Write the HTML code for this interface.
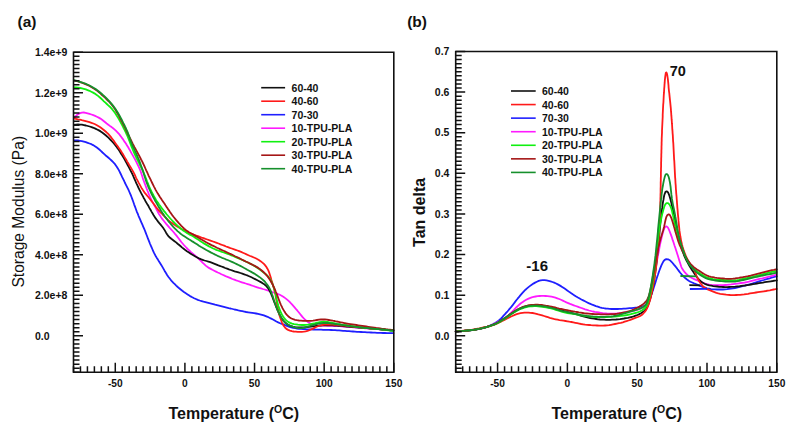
<!DOCTYPE html>
<html><head><meta charset="utf-8"><title>DMA</title>
<style>
html,body{margin:0;padding:0;background:#fff;}
body{width:797px;height:435px;overflow:hidden;}
svg{display:block;}
text{font-family:'Liberation Sans',sans-serif;fill:#111;}
.tl{font-size:10.2px;font-weight:bold;}
.ty{font-size:10.5px;font-weight:bold;}
.lg{font-size:10.5px;font-weight:bold;}
.pl{font-size:15.5px;font-weight:bold;}
.at{font-size:16px;font-weight:bold;}
.yt{font-size:15.6px;}
.yb{font-size:16px;font-weight:bold;}
.an{font-size:14px;font-weight:bold;}
</style></head>
<body>
<svg width="797" height="435" viewBox="0 0 797 435">
<rect width="797" height="435" fill="#fff"/>
<path d="M74.0,140.4 76.0,140.4 78.0,140.5 80.0,140.8 81.9,141.1 83.9,141.6 85.8,142.1 87.7,142.8 89.5,143.5 91.4,144.2 93.1,145.1 94.9,146.2 96.5,147.3 98.1,148.5 99.6,149.8 101.1,151.1 102.5,152.5 104.0,153.9 105.4,155.2 107.0,156.5 108.5,157.8 110.0,159.1 111.5,160.5 112.9,161.9 114.3,163.3 115.5,164.9 116.6,166.5 117.7,168.2 118.7,169.9 119.6,171.7 120.5,173.5 121.4,175.3 122.2,177.1 123.1,178.9 124.0,180.7 124.8,182.5 125.7,184.3 126.6,186.1 127.5,187.9 128.4,189.7 129.2,191.5 130.0,193.3 130.8,195.2 131.5,197.0 132.2,198.9 132.9,200.8 133.6,202.7 134.2,204.6 134.9,206.4 135.6,208.3 136.3,210.2 137.0,212.1 137.8,213.9 138.5,215.8 139.3,217.6 140.1,219.4 140.9,221.3 141.7,223.1 142.5,224.9 143.3,226.8 144.1,228.6 144.9,230.5 145.6,232.3 146.3,234.2 147.0,236.0 147.7,237.9 148.5,239.8 149.2,241.6 149.9,243.5 150.7,245.3 151.5,247.2 152.3,249.0 153.1,250.9 153.9,252.7 154.8,254.4 155.8,256.2 156.8,257.9 157.9,259.6 158.9,261.3 160.0,263.0 161.1,264.7 162.1,266.4 163.1,268.1 164.1,269.9 165.0,271.6 166.1,273.3 167.1,275.0 168.3,276.7 169.5,278.2 170.7,279.8 172.0,281.3 173.4,282.8 174.8,284.2 176.2,285.6 177.7,287.0 179.2,288.3 180.7,289.5 182.3,290.8 183.9,292.0 185.5,293.1 187.2,294.2 188.9,295.3 190.6,296.4 192.3,297.3 194.1,298.2 195.9,299.0 197.8,299.8 199.7,300.5 201.6,301.1 203.5,301.7 205.4,302.2 207.3,302.7 209.3,303.2 211.2,303.7 213.2,304.2 215.1,304.7 217.0,305.1 219.0,305.6 220.9,306.1 222.9,306.6 224.8,307.1 226.7,307.6 228.7,308.1 230.6,308.5 232.6,309.0 234.5,309.5 236.5,309.9 238.4,310.4 240.4,310.8 242.3,311.2 244.3,311.6 246.2,312.0 248.2,312.3 250.2,312.6 252.2,312.9 254.1,313.2 256.1,313.5 258.1,313.9 260.0,314.3 262.0,314.8 263.9,315.4 265.7,316.1 267.6,316.8 269.4,317.7 271.2,318.6 273.0,319.5 274.7,320.5 276.4,321.5 278.2,322.4 280.0,323.2 281.9,324.0 283.7,324.7 285.6,325.4 287.5,326.1 289.4,326.8 291.3,327.4 293.2,327.9 295.2,328.2 297.1,328.5 299.1,328.8 301.1,328.9 303.1,329.1 305.1,329.2 307.1,329.3 309.1,329.4 311.1,329.4 313.1,329.5 315.1,329.6 317.1,329.6 319.1,329.7 321.1,329.7 323.1,329.8 325.1,329.8 327.1,329.9 329.1,329.9 331.1,330.0 333.1,330.1 335.1,330.2 337.1,330.3 339.1,330.4 341.1,330.6 343.1,330.8 345.0,330.9 347.0,331.1 349.0,331.2 351.0,331.4 353.0,331.5 355.0,331.6 357.0,331.8 359.0,331.9 361.0,332.0 363.0,332.1 365.0,332.2 367.0,332.3 369.0,332.4 371.0,332.5 373.0,332.6 375.0,332.7 377.0,332.8 379.0,332.9 381.0,332.9 383.0,333.0 385.0,333.0 387.0,333.1 388.9,333.1 390.8,333.1 392.6,333.2 393.4,333.2" stroke="#1f1fff" stroke-width="1.8" fill="none" stroke-linejoin="round" stroke-linecap="round"/>
<path d="M74.0,117.9 75.4,116.5 76.9,115.1 78.4,114.0 80.1,113.1 81.9,112.6 83.8,112.5 85.7,112.8 87.6,113.3 89.5,113.9 91.4,114.5 93.3,115.2 95.1,115.9 96.9,116.7 98.7,117.6 100.4,118.6 102.1,119.8 103.6,121.0 105.2,122.3 106.7,123.5 108.3,124.7 109.9,125.9 111.6,127.1 113.1,128.3 114.7,129.6 116.1,130.9 117.5,132.3 118.9,133.8 120.1,135.4 121.3,137.0 122.5,138.6 123.6,140.2 124.7,141.9 125.9,143.5 126.9,145.2 128.0,146.9 129.0,148.7 130.0,150.4 130.9,152.1 131.9,153.9 132.9,155.6 133.9,157.4 134.9,159.1 135.8,160.9 136.7,162.7 137.6,164.5 138.5,166.3 139.3,168.1 140.1,169.9 140.8,171.8 141.4,173.7 142.0,175.6 142.6,177.5 143.2,179.4 143.9,181.3 144.6,183.1 145.3,185.0 146.0,186.9 146.7,188.8 147.4,190.6 148.2,192.5 148.9,194.3 149.7,196.2 150.5,198.0 151.4,199.8 152.3,201.6 153.3,203.3 154.2,205.1 155.2,206.8 156.1,208.6 157.0,210.4 158.0,212.2 158.9,213.9 160.0,215.6 161.1,217.3 162.2,218.9 163.5,220.5 164.7,222.0 166.0,223.6 167.3,225.1 168.6,226.6 169.9,228.1 171.3,229.6 172.6,231.0 173.9,232.5 175.2,234.1 176.5,235.6 177.7,237.2 178.9,238.8 180.1,240.4 181.3,242.0 182.6,243.5 183.9,245.0 185.3,246.5 186.7,248.0 188.1,249.4 189.5,250.7 191.0,252.1 192.5,253.4 194.0,254.7 195.5,256.0 197.1,257.3 198.5,258.6 200.0,260.0 201.4,261.4 202.8,262.9 204.2,264.2 205.7,265.6 207.3,266.8 208.9,267.9 210.7,268.9 212.4,269.8 214.2,270.7 216.0,271.6 217.8,272.5 219.6,273.3 221.4,274.2 223.2,275.0 225.1,275.9 226.9,276.7 228.7,277.4 230.6,278.2 232.4,279.0 234.3,279.7 236.2,280.4 238.1,281.0 239.9,281.7 241.8,282.3 243.8,282.9 245.7,283.5 247.6,284.1 249.5,284.7 251.4,285.4 253.3,286.0 255.1,286.7 257.1,287.3 259.0,287.9 260.9,288.4 262.8,289.0 264.7,289.5 266.6,290.1 268.5,290.7 270.4,291.3 272.3,292.0 274.2,292.6 276.1,293.3 278.0,294.0 279.8,294.8 281.6,295.7 283.3,296.7 284.9,297.9 286.5,299.1 288.0,300.4 289.4,301.7 290.8,303.2 292.2,304.6 293.5,306.1 294.8,307.6 296.1,309.2 297.4,310.7 298.7,312.3 299.9,313.8 301.2,315.4 302.4,316.9 303.8,318.4 305.2,319.8 306.7,321.1 308.3,322.2 310.0,323.3 311.8,324.1 313.6,324.8 315.5,325.3 317.5,325.5 319.5,325.6 321.5,325.7 323.5,325.7 325.5,325.7 327.5,325.8 329.5,325.8 331.5,325.9 333.5,326.0 335.5,326.0 337.5,326.1 339.5,326.2 341.5,326.3 343.4,326.5 345.4,326.7 347.4,326.8 349.4,327.0 351.4,327.2 353.4,327.4 355.4,327.5 357.4,327.7 359.4,327.8 361.4,328.0 363.4,328.1 365.4,328.3 367.4,328.4 369.4,328.6 371.4,328.7 373.3,328.9 375.3,329.0 377.3,329.2 379.3,329.3 381.3,329.5 383.3,329.7 385.3,329.8 387.3,330.0 389.2,330.2 391.0,330.3 392.6,330.4 393.4,330.5" stroke="#ff1aff" stroke-width="1.8" fill="none" stroke-linejoin="round" stroke-linecap="round"/>
<path d="M74.0,124.8 76.0,124.6 78.0,124.5 80.0,124.6 81.9,124.7 83.9,125.1 85.9,125.5 87.8,126.0 89.7,126.5 91.6,127.1 93.5,127.8 95.3,128.6 97.1,129.5 98.9,130.4 100.6,131.4 102.2,132.5 103.8,133.7 105.4,135.0 106.9,136.3 108.4,137.7 109.8,139.1 111.2,140.5 112.5,142.0 113.9,143.5 115.1,145.0 116.4,146.6 117.5,148.2 118.7,149.8 119.8,151.5 120.8,153.2 121.9,154.9 122.9,156.6 124.0,158.3 125.0,160.1 125.9,161.8 126.9,163.5 127.8,165.3 128.8,167.1 129.7,168.8 130.6,170.6 131.5,172.4 132.4,174.2 133.2,176.0 134.0,177.9 134.8,179.7 135.6,181.5 136.4,183.4 137.3,185.2 138.1,187.0 139.0,188.8 139.9,190.6 140.8,192.4 141.7,194.1 142.7,195.9 143.6,197.7 144.6,199.4 145.5,201.2 146.5,202.9 147.5,204.6 148.6,206.3 149.5,208.1 150.5,209.8 151.5,211.6 152.5,213.3 153.5,215.0 154.6,216.7 155.7,218.4 156.9,220.0 158.1,221.6 159.3,223.1 160.6,224.6 161.9,226.2 163.1,227.8 164.2,229.4 165.2,231.1 166.2,232.9 167.2,234.5 168.4,236.1 169.8,237.5 171.3,238.8 172.9,240.0 174.5,241.2 176.1,242.4 177.6,243.7 179.2,245.0 180.7,246.3 182.2,247.6 183.7,248.8 185.3,250.1 186.9,251.2 188.6,252.3 190.3,253.4 192.0,254.5 193.7,255.5 195.4,256.5 197.2,257.5 198.9,258.4 200.8,259.2 202.6,259.8 204.5,260.5 206.5,261.0 208.4,261.6 210.3,262.2 212.2,262.9 214.0,263.6 215.9,264.3 217.8,265.1 219.6,265.8 221.5,266.5 223.3,267.2 225.2,268.0 227.1,268.7 228.9,269.4 230.8,270.0 232.7,270.7 234.6,271.3 236.6,271.8 238.5,272.4 240.4,273.0 242.3,273.6 244.2,274.3 246.0,275.0 247.9,275.7 249.7,276.5 251.5,277.3 253.3,278.2 255.1,279.1 256.9,280.0 258.7,281.0 260.4,281.9 262.2,282.9 263.8,283.9 265.4,285.2 266.8,286.6 268.0,288.1 269.1,289.8 270.0,291.5 270.9,293.3 271.6,295.2 272.4,297.0 273.1,298.9 273.8,300.8 274.5,302.6 275.3,304.5 276.0,306.4 276.7,308.2 277.5,310.1 278.3,311.9 279.1,313.7 280.0,315.5 281.0,317.2 282.0,318.9 283.2,320.5 284.5,322.0 286.0,323.3 287.6,324.5 289.3,325.4 291.1,326.2 293.0,326.7 295.0,327.1 297.0,327.3 298.9,327.4 300.9,327.5 302.9,327.4 304.9,327.3 306.9,327.1 308.9,326.9 310.9,326.6 312.9,326.3 314.8,326.1 316.8,325.8 318.8,325.7 320.8,325.5 322.8,325.4 324.8,325.4 326.8,325.4 328.8,325.4 330.8,325.4 332.8,325.4 334.8,325.5 336.8,325.6 338.8,325.8 340.8,325.9 342.8,326.1 344.8,326.3 346.8,326.5 348.8,326.7 350.7,326.9 352.7,327.0 354.7,327.2 356.7,327.4 358.7,327.5 360.7,327.7 362.7,327.9 364.7,328.0 366.7,328.2 368.7,328.4 370.7,328.6 372.7,328.7 374.7,328.9 376.7,329.1 378.6,329.2 380.6,329.4 382.6,329.6 384.6,329.7 386.6,329.9 388.6,330.1 390.5,330.3 392.5,330.4 393.4,330.5" stroke="#111111" stroke-width="1.8" fill="none" stroke-linejoin="round" stroke-linecap="round"/>
<path d="M74.0,118.3 75.9,118.8 77.9,119.3 79.8,119.7 81.8,120.2 83.7,120.6 85.7,121.1 87.6,121.6 89.5,122.2 91.4,122.8 93.3,123.5 95.1,124.3 96.9,125.2 98.6,126.2 100.3,127.3 101.9,128.5 103.5,129.7 105.0,131.0 106.5,132.3 108.0,133.7 109.3,135.1 110.6,136.6 111.8,138.2 113.0,139.8 114.2,141.4 115.3,143.1 116.5,144.7 117.7,146.3 118.8,147.9 120.0,149.6 121.1,151.3 122.1,152.9 123.2,154.6 124.2,156.4 125.2,158.1 126.2,159.8 127.2,161.6 128.2,163.3 129.2,165.0 130.3,166.7 131.3,168.4 132.3,170.1 133.3,171.9 134.2,173.7 135.1,175.5 135.9,177.3 136.8,179.1 137.7,180.8 138.6,182.6 139.6,184.4 140.5,186.1 141.5,187.9 142.6,189.6 143.7,191.2 144.8,192.9 146.1,194.4 147.4,196.0 148.7,197.5 149.9,199.0 151.2,200.6 152.4,202.2 153.6,203.8 154.8,205.4 156.0,207.0 157.2,208.5 158.5,210.1 159.8,211.6 161.2,213.0 162.6,214.5 164.0,215.9 165.4,217.3 166.8,218.7 168.2,220.1 169.7,221.4 171.3,222.6 172.9,223.7 174.6,224.8 176.3,225.9 178.0,227.0 179.7,228.0 181.4,229.0 183.2,229.9 185.0,230.8 186.8,231.7 188.6,232.5 190.4,233.3 192.3,234.1 194.1,234.8 196.0,235.5 197.9,236.2 199.7,236.9 201.6,237.6 203.5,238.2 205.4,238.9 207.3,239.5 209.2,240.2 211.1,240.8 213.0,241.5 214.9,242.2 216.7,242.8 218.6,243.5 220.5,244.3 222.3,245.0 224.2,245.7 226.1,246.5 227.9,247.2 229.8,247.9 231.7,248.5 233.6,249.2 235.5,249.8 237.4,250.5 239.2,251.2 241.1,251.9 242.9,252.7 244.7,253.5 246.6,254.4 248.4,255.2 250.2,256.0 252.1,256.7 253.9,257.5 255.7,258.3 257.5,259.2 259.2,260.2 260.9,261.4 262.4,262.6 263.9,263.9 265.2,265.4 266.4,267.0 267.4,268.7 268.3,270.4 269.1,272.3 269.7,274.2 270.3,276.1 270.9,278.0 271.4,279.9 272.0,281.8 272.6,283.7 273.1,285.7 273.7,287.6 274.2,289.5 274.7,291.5 275.2,293.4 275.6,295.4 275.9,297.3 276.3,299.3 276.6,301.3 276.9,303.2 277.3,305.2 277.6,307.2 278.0,309.1 278.4,311.1 278.9,313.0 279.4,315.0 280.0,316.9 280.6,318.8 281.3,320.7 282.0,322.5 282.8,324.3 283.8,326.0 285.0,327.5 286.4,328.9 288.1,329.9 289.9,330.6 291.8,331.1 293.7,331.5 295.7,331.7 297.7,331.9 299.7,331.9 301.7,331.8 303.7,331.6 305.6,331.3 307.5,330.8 309.4,330.2 311.2,329.4 313.0,328.6 314.8,327.6 316.6,326.8 318.5,326.0 320.3,325.5 322.3,325.0 324.2,324.7 326.2,324.6 328.2,324.5 330.2,324.6 332.2,324.6 334.2,324.8 336.2,324.9 338.2,325.1 340.2,325.3 342.2,325.5 344.2,325.7 346.2,325.9 348.1,326.1 350.1,326.3 352.1,326.5 354.1,326.7 356.1,326.9 358.1,327.1 360.1,327.3 362.1,327.5 364.1,327.7 366.1,327.9 368.0,328.1 370.0,328.3 372.0,328.5 374.0,328.7 376.0,328.8 378.0,329.0 380.0,329.2 382.0,329.3 384.0,329.5 386.0,329.7 387.9,329.8 389.9,330.0 391.7,330.2 393.4,330.3" stroke="#ff1a1a" stroke-width="1.8" fill="none" stroke-linejoin="round" stroke-linecap="round"/>
<path d="M74.0,87.4 76.0,87.5 78.0,87.7 80.0,88.0 81.9,88.4 83.8,88.8 85.8,89.4 87.6,90.1 89.5,90.8 91.3,91.7 93.1,92.6 94.8,93.6 96.4,94.7 98.0,95.9 99.6,97.2 101.1,98.5 102.5,99.9 103.9,101.3 105.4,102.7 106.8,104.0 108.3,105.4 109.8,106.7 111.2,108.2 112.5,109.7 113.7,111.2 114.9,112.8 116.0,114.5 117.1,116.2 118.1,117.9 119.1,119.6 120.1,121.4 121.0,123.1 122.0,124.9 122.9,126.7 123.8,128.5 124.7,130.2 125.6,132.0 126.4,133.8 127.3,135.7 128.0,137.5 128.8,139.4 129.5,141.2 130.2,143.1 130.9,145.0 131.6,146.8 132.4,148.7 133.1,150.5 133.9,152.4 134.7,154.2 135.6,156.0 136.4,157.8 137.3,159.6 138.2,161.4 139.1,163.2 140.0,165.0 140.9,166.8 141.8,168.6 142.6,170.4 143.4,172.2 144.2,174.0 145.0,175.9 145.7,177.8 146.4,179.6 147.1,181.5 147.9,183.4 148.6,185.2 149.4,187.0 150.2,188.9 151.1,190.7 151.9,192.5 152.9,194.2 153.8,196.0 154.8,197.7 155.8,199.5 156.9,201.2 158.0,202.8 159.1,204.5 160.3,206.1 161.5,207.7 162.7,209.3 163.9,210.9 165.2,212.4 166.4,214.0 167.7,215.5 169.0,217.0 170.3,218.5 171.7,220.0 173.1,221.5 174.5,222.9 175.9,224.3 177.4,225.6 178.9,226.9 180.4,228.2 182.0,229.5 183.5,230.7 185.2,231.8 186.9,232.9 188.6,233.9 190.3,234.9 192.1,235.8 193.8,236.8 195.5,237.9 197.2,239.0 198.9,240.1 200.5,241.2 202.2,242.3 203.9,243.4 205.6,244.4 207.3,245.4 209.0,246.4 210.8,247.3 212.6,248.2 214.4,249.0 216.3,249.8 218.1,250.5 220.0,251.2 221.9,251.9 223.8,252.5 225.7,253.2 227.6,253.8 229.4,254.5 231.3,255.3 233.1,256.0 235.0,256.8 236.8,257.6 238.7,258.4 240.5,259.2 242.3,260.0 244.1,260.8 246.0,261.7 247.8,262.5 249.6,263.4 251.4,264.3 253.1,265.2 254.8,266.2 256.5,267.3 258.2,268.4 259.8,269.6 261.4,270.8 263.0,272.0 264.5,273.3 266.1,274.5 267.5,275.9 268.8,277.4 269.9,279.0 270.9,280.7 271.8,282.5 272.6,284.4 273.3,286.2 274.0,288.1 274.6,290.0 275.1,291.9 275.6,293.9 276.0,295.8 276.4,297.8 276.7,299.7 277.2,301.7 277.7,303.6 278.2,305.5 278.9,307.4 279.6,309.3 280.3,311.2 281.1,313.0 282.0,314.7 283.1,316.5 284.2,318.1 285.5,319.6 286.9,320.9 288.5,322.1 290.2,322.9 292.1,323.6 294.0,324.1 296.0,324.4 297.9,324.7 299.9,324.9 301.9,325.0 303.9,325.0 305.9,324.9 307.9,324.7 309.8,324.3 311.8,323.9 313.8,323.5 315.7,323.0 317.6,322.6 319.6,322.2 321.6,321.9 323.5,321.7 325.5,321.8 327.5,322.0 329.4,322.4 331.4,322.7 333.4,323.1 335.3,323.5 337.3,323.9 339.3,324.2 341.2,324.6 343.2,324.9 345.2,325.2 347.2,325.5 349.1,325.8 351.1,326.1 353.1,326.4 355.1,326.6 357.1,326.8 359.1,327.1 361.0,327.3 363.0,327.5 365.0,327.8 367.0,328.0 369.0,328.2 371.0,328.4 373.0,328.6 375.0,328.8 377.0,329.0 378.9,329.2 380.9,329.4 382.9,329.6 384.9,329.8 386.9,330.0 388.8,330.3 390.7,330.5 392.5,330.8 393.4,330.9" stroke="#10f010" stroke-width="1.8" fill="none" stroke-linejoin="round" stroke-linecap="round"/>
<path d="M74.0,80.5 75.9,81.0 77.9,81.5 79.8,82.1 81.7,82.7 83.6,83.4 85.4,84.1 87.3,84.9 89.1,85.8 90.8,86.7 92.5,87.7 94.2,88.8 95.9,89.9 97.5,91.1 99.0,92.3 100.6,93.6 102.0,95.0 103.5,96.3 105.0,97.7 106.4,99.1 107.8,100.5 109.3,101.9 110.6,103.4 111.9,104.9 113.1,106.5 114.3,108.1 115.4,109.8 116.4,111.5 117.4,113.2 118.4,114.9 119.3,116.7 120.2,118.5 121.2,120.3 122.1,122.0 123.0,123.8 123.9,125.6 124.8,127.4 125.7,129.2 126.5,131.0 127.4,132.8 128.2,134.6 129.1,136.4 130.0,138.2 130.9,140.0 131.8,141.8 132.7,143.6 133.6,145.3 134.5,147.1 135.5,148.9 136.4,150.6 137.4,152.4 138.3,154.1 139.3,155.9 140.2,157.7 141.1,159.5 142.0,161.2 142.9,163.0 143.8,164.8 144.6,166.7 145.4,168.5 146.2,170.3 147.1,172.1 147.9,174.0 148.7,175.8 149.6,177.6 150.5,179.4 151.3,181.2 152.2,183.0 153.1,184.8 154.0,186.6 154.9,188.3 155.8,190.1 156.8,191.9 157.8,193.6 158.9,195.3 159.9,197.0 161.0,198.6 162.1,200.3 163.3,202.0 164.4,203.6 165.5,205.3 166.6,206.9 167.7,208.6 168.9,210.2 170.0,211.9 171.1,213.5 172.3,215.2 173.5,216.8 174.7,218.3 176.0,219.9 177.3,221.4 178.6,222.9 180.0,224.3 181.3,225.8 182.7,227.2 184.2,228.6 185.7,229.9 187.3,231.1 188.9,232.2 190.7,233.2 192.4,234.1 194.2,235.1 195.9,236.1 197.6,237.1 199.3,238.2 201.0,239.2 202.8,240.2 204.5,241.2 206.2,242.2 208.0,243.2 209.7,244.1 211.5,245.1 213.3,245.9 215.1,246.8 216.9,247.7 218.7,248.5 220.5,249.4 222.3,250.2 224.2,251.0 226.0,251.9 227.8,252.7 229.6,253.6 231.4,254.4 233.2,255.3 235.0,256.2 236.8,257.0 238.6,257.9 240.4,258.8 242.2,259.7 244.0,260.6 245.8,261.5 247.6,262.3 249.4,263.2 251.2,264.1 253.0,265.0 254.7,265.9 256.5,266.9 258.2,267.9 259.8,269.0 261.4,270.2 262.9,271.5 264.4,272.9 265.8,274.3 267.1,275.8 268.3,277.4 269.4,279.1 270.5,280.7 271.5,282.5 272.4,284.2 273.3,286.0 274.2,287.8 275.0,289.7 275.7,291.5 276.5,293.4 277.2,295.2 277.9,297.1 278.6,299.0 279.3,300.9 280.0,302.7 280.8,304.6 281.7,306.4 282.5,308.2 283.5,309.9 284.5,311.6 285.6,313.3 286.9,314.8 288.2,316.2 289.8,317.5 291.4,318.5 293.2,319.2 295.1,319.8 297.1,320.2 299.0,320.5 301.0,320.7 303.0,320.9 305.0,320.9 307.0,320.9 309.0,320.9 311.0,320.8 313.0,320.6 315.0,320.3 316.9,320.0 318.9,319.7 320.9,319.5 322.9,319.5 324.9,319.5 326.9,319.7 328.8,320.0 330.8,320.3 332.8,320.7 334.7,321.0 336.7,321.5 338.7,321.9 340.6,322.3 342.6,322.7 344.5,323.1 346.5,323.5 348.5,323.8 350.4,324.1 352.4,324.4 354.4,324.7 356.4,325.0 358.3,325.3 360.3,325.6 362.3,325.9 364.3,326.2 366.3,326.5 368.2,326.8 370.2,327.1 372.2,327.4 374.2,327.7 376.2,328.0 378.1,328.2 380.1,328.5 382.1,328.8 384.1,329.0 386.1,329.3 388.0,329.5 389.9,329.6 391.7,329.8 393.4,329.9" stroke="#a51616" stroke-width="1.8" fill="none" stroke-linejoin="round" stroke-linecap="round"/>
<path d="M74.0,80.1 75.9,80.6 77.9,81.2 79.8,81.8 81.7,82.4 83.6,83.0 85.4,83.7 87.3,84.5 89.1,85.3 90.9,86.2 92.6,87.2 94.3,88.2 96.0,89.3 97.6,90.5 99.2,91.7 100.7,93.0 102.2,94.3 103.7,95.7 105.1,97.0 106.6,98.4 108.0,99.8 109.4,101.3 110.7,102.8 112.0,104.3 113.2,105.9 114.4,107.5 115.5,109.1 116.6,110.8 117.7,112.5 118.7,114.2 119.7,116.0 120.6,117.7 121.6,119.5 122.5,121.3 123.4,123.1 124.3,124.8 125.1,126.7 126.0,128.5 126.8,130.3 127.6,132.1 128.3,134.0 129.0,135.9 129.6,137.8 130.2,139.7 130.9,141.6 131.6,143.4 132.4,145.3 133.2,147.1 134.0,148.9 134.8,150.7 135.7,152.5 136.5,154.4 137.3,156.2 138.1,158.0 138.9,159.9 139.6,161.7 140.3,163.6 141.0,165.5 141.7,167.3 142.4,169.2 143.0,171.1 143.6,173.1 144.2,175.0 144.8,176.9 145.4,178.8 146.0,180.7 146.7,182.6 147.4,184.4 148.1,186.3 148.9,188.1 149.7,189.9 150.6,191.8 151.4,193.6 152.3,195.4 153.2,197.1 154.2,198.9 155.1,200.7 156.1,202.4 157.1,204.1 158.1,205.9 159.1,207.6 160.2,209.3 161.2,211.0 162.3,212.7 163.4,214.3 164.5,216.0 165.7,217.6 166.9,219.2 168.1,220.8 169.4,222.3 170.7,223.9 172.0,225.4 173.3,226.9 174.7,228.3 176.1,229.7 177.5,231.1 179.1,232.4 180.6,233.7 182.2,234.9 183.9,236.0 185.5,237.1 187.2,238.2 188.9,239.3 190.6,240.3 192.3,241.4 194.0,242.4 195.7,243.5 197.4,244.6 199.0,245.7 200.7,246.7 202.5,247.7 204.2,248.7 205.9,249.7 207.7,250.7 209.4,251.6 211.2,252.6 213.0,253.5 214.7,254.4 216.5,255.3 218.3,256.2 220.2,257.0 222.0,257.8 223.9,258.5 225.7,259.3 227.6,260.0 229.4,260.8 231.3,261.6 233.1,262.4 234.9,263.2 236.7,264.1 238.5,265.0 240.3,265.9 242.0,266.8 243.8,267.8 245.6,268.7 247.3,269.7 249.1,270.7 250.8,271.6 252.5,272.6 254.3,273.6 256.0,274.7 257.6,275.8 259.3,276.9 260.9,278.1 262.4,279.4 263.9,280.7 265.3,282.2 266.5,283.7 267.7,285.3 268.8,287.0 269.7,288.7 270.6,290.5 271.4,292.4 272.0,294.2 272.7,296.1 273.3,298.0 273.9,300.0 274.5,301.8 275.2,303.7 275.8,305.6 276.6,307.5 277.3,309.3 278.1,311.2 278.9,313.0 279.8,314.8 280.7,316.6 281.7,318.3 282.9,319.9 284.1,321.4 285.5,322.8 287.0,324.0 288.7,325.1 290.5,325.9 292.4,326.6 294.3,327.2 296.2,327.7 298.1,328.1 300.1,328.2 302.1,328.1 304.0,327.7 305.9,327.2 307.8,326.7 309.7,326.0 311.6,325.4 313.6,324.8 315.5,324.3 317.4,323.9 319.4,323.5 321.4,323.2 323.3,323.0 325.3,323.0 327.3,323.0 329.3,323.2 331.3,323.5 333.3,323.7 335.2,324.0 337.2,324.3 339.2,324.5 341.2,324.8 343.2,325.1 345.2,325.3 347.1,325.6 349.1,325.8 351.1,326.1 353.1,326.3 355.1,326.6 357.1,326.8 359.0,327.1 361.0,327.3 363.0,327.6 365.0,327.8 367.0,328.0 369.0,328.2 371.0,328.4 373.0,328.6 375.0,328.8 376.9,329.0 378.9,329.2 380.9,329.3 382.9,329.5 384.9,329.7 386.9,329.9 388.8,330.1 390.7,330.3 392.5,330.4 393.4,330.5" stroke="#16902c" stroke-width="1.8" fill="none" stroke-linejoin="round" stroke-linecap="round"/>
<path d="M73.5,52.3 H393.8 V372.2 H73.5 Z" fill="none" stroke="#111" stroke-width="1.6"/>
<path d="M73.5,52.30 h9.5 M73.5,56.35 h6.0 M73.5,60.40 h6.0 M73.5,64.45 h6.0 M73.5,68.50 h6.0 M73.5,72.55 h6.0 M73.5,76.60 h6.0 M73.5,80.65 h6.0 M73.5,84.70 h6.0 M73.5,88.75 h6.0 M73.5,92.80 h9.5 M73.5,96.85 h6.0 M73.5,100.90 h6.0 M73.5,104.95 h6.0 M73.5,109.00 h6.0 M73.5,113.05 h6.0 M73.5,117.10 h6.0 M73.5,121.15 h6.0 M73.5,125.20 h6.0 M73.5,129.25 h6.0 M73.5,133.30 h9.5 M73.5,137.35 h6.0 M73.5,141.40 h6.0 M73.5,145.45 h6.0 M73.5,149.50 h6.0 M73.5,153.55 h6.0 M73.5,157.60 h6.0 M73.5,161.65 h6.0 M73.5,165.70 h6.0 M73.5,169.75 h6.0 M73.5,173.80 h9.5 M73.5,177.85 h6.0 M73.5,181.90 h6.0 M73.5,185.95 h6.0 M73.5,190.00 h6.0 M73.5,194.05 h6.0 M73.5,198.10 h6.0 M73.5,202.15 h6.0 M73.5,206.20 h6.0 M73.5,210.25 h6.0 M73.5,214.30 h9.5 M73.5,218.35 h6.0 M73.5,222.40 h6.0 M73.5,226.45 h6.0 M73.5,230.50 h6.0 M73.5,234.55 h6.0 M73.5,238.60 h6.0 M73.5,242.65 h6.0 M73.5,246.70 h6.0 M73.5,250.75 h6.0 M73.5,254.80 h9.5 M73.5,258.85 h6.0 M73.5,262.90 h6.0 M73.5,266.95 h6.0 M73.5,271.00 h6.0 M73.5,275.05 h6.0 M73.5,279.10 h6.0 M73.5,283.15 h6.0 M73.5,287.20 h6.0 M73.5,291.25 h6.0 M73.5,295.30 h9.5 M73.5,299.35 h6.0 M73.5,303.40 h6.0 M73.5,307.45 h6.0 M73.5,311.50 h6.0 M73.5,315.55 h6.0 M73.5,319.60 h6.0 M73.5,323.65 h6.0 M73.5,327.70 h6.0 M73.5,331.75 h6.0 M73.5,335.80 h9.5 M73.5,339.85 h6.0 M73.5,343.90 h6.0 M73.5,347.95 h6.0 M73.5,352.00 h6.0 M73.5,356.05 h6.0 M73.5,360.10 h6.0 M73.5,364.15 h6.0 M73.5,368.20 h6.0 M73.5,372.25 h6.0 M73.50,372.2 v-6.0 M80.46,372.2 v-6.0 M87.43,372.2 v-6.0 M94.39,372.2 v-6.0 M101.35,372.2 v-6.0 M108.32,372.2 v-6.0 M115.28,372.2 v-9.5 M122.24,372.2 v-6.0 M129.20,372.2 v-6.0 M136.17,372.2 v-6.0 M143.13,372.2 v-6.0 M150.09,372.2 v-6.0 M157.06,372.2 v-6.0 M164.02,372.2 v-6.0 M170.98,372.2 v-6.0 M177.95,372.2 v-6.0 M184.91,372.2 v-9.5 M191.87,372.2 v-6.0 M198.83,372.2 v-6.0 M205.80,372.2 v-6.0 M212.76,372.2 v-6.0 M219.72,372.2 v-6.0 M226.69,372.2 v-6.0 M233.65,372.2 v-6.0 M240.61,372.2 v-6.0 M247.58,372.2 v-6.0 M254.54,372.2 v-9.5 M261.50,372.2 v-6.0 M268.47,372.2 v-6.0 M275.43,372.2 v-6.0 M282.39,372.2 v-6.0 M289.35,372.2 v-6.0 M296.32,372.2 v-6.0 M303.28,372.2 v-6.0 M310.24,372.2 v-6.0 M317.21,372.2 v-6.0 M324.17,372.2 v-9.5 M331.13,372.2 v-6.0 M338.10,372.2 v-6.0 M345.06,372.2 v-6.0 M352.02,372.2 v-6.0 M358.98,372.2 v-6.0 M365.95,372.2 v-6.0 M372.91,372.2 v-6.0 M379.87,372.2 v-6.0 M386.84,372.2 v-6.0 M393.80,372.2 v-9.5" stroke="#111" stroke-width="1.5" fill="none"/>
<text x="115.28" y="386.6" text-anchor="middle" class="tl">-50</text>
<text x="184.91" y="386.6" text-anchor="middle" class="tl">0</text>
<text x="254.54" y="386.6" text-anchor="middle" class="tl">50</text>
<text x="324.17" y="386.6" text-anchor="middle" class="tl">100</text>
<text x="393.80" y="386.6" text-anchor="middle" class="tl">150</text>
<text x="35.0" y="339.50" class="ty">0.0</text>
<text x="35.0" y="299.00" class="ty">2.0e+8</text>
<text x="35.0" y="258.50" class="ty">4.0e+8</text>
<text x="35.0" y="218.00" class="ty">6.0e+8</text>
<text x="35.0" y="177.50" class="ty">8.0e+8</text>
<text x="35.0" y="137.00" class="ty">1.0e+9</text>
<text x="35.0" y="96.50" class="ty">1.2e+9</text>
<text x="35.0" y="56.00" class="ty">1.4e+9</text>
<path d="M261.2,87.70 H285.1" stroke="#111111" stroke-width="1.6"/>
<text x="291.6" y="91.70" class="lg">60-40</text>
<path d="M261.2,101.20 H285.1" stroke="#ff1a1a" stroke-width="1.6"/>
<text x="291.6" y="105.20" class="lg">40-60</text>
<path d="M261.2,114.70 H285.1" stroke="#1f1fff" stroke-width="1.6"/>
<text x="291.6" y="118.70" class="lg">70-30</text>
<path d="M261.2,128.20 H285.1" stroke="#ff1aff" stroke-width="1.6"/>
<text x="291.6" y="132.20" class="lg">10-TPU-PLA</text>
<path d="M261.2,141.70 H285.1" stroke="#10f010" stroke-width="1.6"/>
<text x="291.6" y="145.70" class="lg">20-TPU-PLA</text>
<path d="M261.2,155.20 H285.1" stroke="#a51616" stroke-width="1.6"/>
<text x="291.6" y="159.20" class="lg">30-TPU-PLA</text>
<path d="M261.2,168.70 H285.1" stroke="#16902c" stroke-width="1.6"/>
<text x="291.6" y="172.70" class="lg">40-TPU-PLA</text>
<path d="M455.7,331.5 457.7,331.4 459.7,331.2 461.7,331.1 463.7,330.9 465.7,330.7 467.7,330.5 469.6,330.3 471.6,330.0 473.6,329.8 475.6,329.5 477.6,329.1 479.5,328.8 481.5,328.4 483.4,327.9 485.3,327.3 487.2,326.7 489.1,326.0 491.0,325.2 492.8,324.4 494.5,323.4 496.2,322.3 497.8,321.2 499.4,320.0 500.9,318.6 502.3,317.2 503.6,315.7 505.0,314.2 506.3,312.7 507.6,311.3 508.9,309.7 510.2,308.2 511.5,306.6 512.7,305.1 513.9,303.5 515.1,301.9 516.3,300.3 517.6,298.7 518.9,297.2 520.1,295.6 521.4,294.1 522.7,292.6 524.1,291.1 525.5,289.7 527.0,288.4 528.5,287.1 530.1,285.9 531.7,284.7 533.4,283.6 535.1,282.6 536.9,281.7 538.7,280.9 540.6,280.4 542.6,280.2 544.6,280.2 546.6,280.4 548.6,280.8 550.5,281.3 552.4,282.0 554.2,282.7 556.1,283.5 557.8,284.4 559.6,285.4 561.3,286.4 563.0,287.5 564.6,288.6 566.3,289.8 567.9,290.9 569.5,292.1 571.2,293.2 572.8,294.3 574.5,295.4 576.2,296.5 577.9,297.5 579.7,298.5 581.4,299.5 583.2,300.4 585.0,301.3 586.8,302.2 588.6,303.1 590.4,303.9 592.2,304.7 594.1,305.4 595.9,306.1 597.8,306.7 599.8,307.3 601.7,307.8 603.7,308.2 605.6,308.5 607.6,308.7 609.6,308.9 611.6,309.0 613.6,309.0 615.6,309.0 617.6,309.0 619.6,308.9 621.6,308.8 623.6,308.7 625.6,308.6 627.6,308.4 629.6,308.2 631.6,308.1 633.6,307.9 635.6,307.7 637.5,307.5 639.5,307.2 641.5,306.7 643.3,306.0 645.1,305.2 646.7,304.0 647.9,302.4 648.9,300.7 649.7,298.9 650.5,297.0 651.2,295.2 651.9,293.3 652.5,291.4 653.2,289.5 653.8,287.6 654.4,285.7 655.0,283.8 655.6,281.9 656.2,280.0 656.8,278.1 657.4,276.2 658.1,274.3 658.7,272.4 659.4,270.5 660.1,268.6 660.8,266.8 661.6,264.9 662.5,263.1 663.4,261.4 664.7,259.9 666.3,259.1 668.1,259.3 669.8,260.2 671.3,261.6 672.6,263.0 673.9,264.6 675.2,266.1 676.5,267.7 677.6,269.3 678.8,270.9 680.0,272.5 681.3,274.0 682.6,275.5 684.0,276.9 685.5,278.3 687.0,279.5 688.7,280.7 690.4,281.7 692.2,282.5 694.1,283.3 695.9,284.0 697.8,284.8 699.6,285.6 701.4,286.4 703.3,287.1 705.2,287.7 707.1,288.3 709.1,288.7 711.0,289.1 713.0,289.3 715.0,289.4 717.0,289.5 719.0,289.5 721.0,289.5 723.0,289.5 725.0,289.3 727.0,289.2 729.0,288.9 731.0,288.7 732.9,288.4 734.9,288.0 736.9,287.6 738.8,287.2 740.8,286.7 742.7,286.2 744.6,285.7 746.6,285.2 748.5,284.6 750.4,284.1 752.3,283.5 754.2,282.9 756.1,282.3 758.0,281.7 760.0,281.1 761.9,280.5 763.8,280.0 765.7,279.4 767.6,278.8 769.6,278.3 771.5,277.7 773.4,277.2 775.2,276.7 776.8,276.3" stroke="#1f1fff" stroke-width="1.8" fill="none" stroke-linejoin="round" stroke-linecap="round"/>
<path d="M455.7,331.5 457.7,331.4 459.7,331.2 461.7,331.1 463.7,330.9 465.7,330.7 467.7,330.5 469.6,330.3 471.6,330.0 473.6,329.8 475.6,329.5 477.6,329.1 479.5,328.8 481.5,328.4 483.4,327.9 485.3,327.3 487.2,326.7 489.1,326.0 491.0,325.3 492.8,324.5 494.6,323.7 496.4,322.8 498.2,321.9 500.0,321.0 501.8,320.2 503.6,319.2 505.3,318.1 506.8,316.9 508.3,315.5 509.7,314.1 511.1,312.7 512.5,311.3 513.9,309.9 515.3,308.4 516.7,307.0 518.2,305.6 519.7,304.3 521.2,303.0 522.8,301.9 524.5,300.8 526.2,299.8 528.0,298.9 529.8,298.1 531.7,297.4 533.6,296.9 535.6,296.5 537.6,296.2 539.6,296.0 541.6,295.9 543.6,295.9 545.6,296.0 547.6,296.1 549.5,296.3 551.5,296.7 553.5,297.1 555.4,297.6 557.3,298.3 559.2,299.0 561.0,299.8 562.8,300.6 564.6,301.5 566.4,302.4 568.2,303.1 570.1,303.9 572.0,304.6 573.8,305.3 575.7,306.0 577.6,306.7 579.5,307.4 581.4,308.0 583.3,308.7 585.1,309.3 587.1,309.9 589.0,310.5 590.9,311.0 592.9,311.5 594.8,311.9 596.8,312.2 598.8,312.5 600.7,312.8 602.7,313.1 604.7,313.3 606.7,313.5 608.7,313.6 610.7,313.7 612.7,313.7 614.7,313.6 616.7,313.5 618.7,313.3 620.7,313.1 622.6,312.8 624.6,312.5 626.6,312.2 628.6,311.8 630.5,311.4 632.5,311.0 634.4,310.5 636.4,310.1 638.3,309.5 640.2,308.8 641.9,307.9 643.5,306.8 645.0,305.5 646.4,304.0 647.5,302.4 648.4,300.6 649.1,298.7 649.7,296.8 650.3,294.9 650.8,293.0 651.2,291.0 651.6,289.1 652.1,287.1 652.5,285.2 652.9,283.2 653.3,281.2 653.6,279.3 654.0,277.3 654.4,275.3 654.7,273.4 655.1,271.4 655.5,269.4 655.8,267.5 656.2,265.5 656.5,263.5 656.9,261.6 657.2,259.6 657.6,257.6 657.9,255.7 658.3,253.7 658.7,251.7 659.1,249.8 659.4,247.8 659.8,245.8 660.2,243.9 660.6,241.9 661.1,240.0 661.5,238.0 662.0,236.1 662.5,234.1 663.0,232.2 663.6,230.3 664.3,228.4 665.2,226.9 666.6,226.4 667.8,227.4 668.7,229.2 669.5,231.0 670.2,232.9 670.9,234.7 671.6,236.6 672.2,238.5 672.8,240.4 673.5,242.3 674.1,244.2 674.7,246.1 675.4,248.0 676.0,249.9 676.6,251.8 677.2,253.7 677.8,255.6 678.4,257.5 679.0,259.5 679.6,261.4 680.2,263.3 680.8,265.2 681.4,267.1 682.3,268.8 683.4,270.5 684.7,272.1 686.0,273.6 687.4,275.0 688.9,276.3 690.6,277.3 692.4,278.3 694.2,279.1 696.0,279.9 697.9,280.7 699.7,281.5 701.6,282.2 703.4,282.9 705.3,283.6 707.2,284.2 709.2,284.6 711.1,284.9 713.1,285.1 715.1,285.2 717.1,285.2 719.1,285.2 721.1,285.2 723.1,285.2 725.1,285.0 727.1,284.9 729.1,284.6 731.1,284.4 733.1,284.1 735.0,283.8 737.0,283.6 739.0,283.3 741.0,283.0 743.0,282.8 744.9,282.5 746.9,282.1 748.9,281.7 750.8,281.2 752.8,280.7 754.7,280.2 756.6,279.7 758.6,279.2 760.5,278.7 762.4,278.3 764.4,277.8 766.3,277.3 768.3,276.8 770.2,276.4 772.2,275.9 774.1,275.4 775.9,275.0 776.8,274.8" stroke="#ff1aff" stroke-width="1.8" fill="none" stroke-linejoin="round" stroke-linecap="round"/>
<path d="M455.7,331.5 457.7,331.4 459.7,331.2 461.7,331.1 463.7,330.9 465.7,330.7 467.7,330.5 469.6,330.3 471.6,330.0 473.6,329.8 475.6,329.5 477.6,329.1 479.5,328.8 481.5,328.3 483.4,327.9 485.4,327.4 487.3,326.8 489.2,326.2 491.1,325.5 492.9,324.8 494.8,324.1 496.6,323.3 498.4,322.3 500.1,321.3 501.8,320.3 503.5,319.1 505.1,318.0 506.8,316.9 508.4,315.7 510.0,314.6 511.7,313.5 513.4,312.4 515.0,311.3 516.8,310.2 518.5,309.3 520.3,308.4 522.1,307.6 524.0,306.9 525.9,306.4 527.9,305.9 529.9,305.6 531.8,305.4 533.8,305.2 535.8,305.2 537.8,305.2 539.8,305.4 541.8,305.6 543.8,305.9 545.7,306.3 547.7,306.6 549.7,307.0 551.6,307.4 553.6,307.9 555.5,308.5 557.4,309.2 559.3,309.8 561.2,310.4 563.1,310.9 565.1,311.4 567.0,311.9 568.9,312.3 570.9,312.8 572.8,313.3 574.7,313.9 576.7,314.4 578.6,315.0 580.5,315.6 582.4,316.1 584.3,316.7 586.3,317.2 588.2,317.6 590.2,318.0 592.1,318.4 594.1,318.7 596.1,319.0 598.1,319.3 600.1,319.5 602.1,319.6 604.1,319.7 606.1,319.8 608.1,319.8 610.1,319.8 612.1,319.7 614.0,319.6 616.0,319.5 618.0,319.3 620.0,319.1 622.0,318.8 624.0,318.5 625.9,318.1 627.9,317.8 629.9,317.4 631.8,317.0 633.7,316.4 635.6,315.7 637.5,315.0 639.3,314.1 641.0,313.2 642.7,312.1 644.3,310.9 645.7,309.5 646.8,307.8 647.6,306.0 648.4,304.2 649.1,302.3 649.7,300.4 650.3,298.5 650.8,296.6 651.3,294.6 651.8,292.7 652.2,290.7 652.6,288.8 653.0,286.8 653.4,284.8 653.7,282.9 654.0,280.9 654.3,278.9 654.6,276.9 654.9,275.0 655.2,273.0 655.4,271.0 655.7,269.0 655.9,267.0 656.2,265.0 656.4,263.0 656.6,261.1 656.8,259.1 657.0,257.1 657.3,255.1 657.5,253.1 657.7,251.1 657.9,249.1 658.1,247.1 658.3,245.1 658.5,243.2 658.7,241.2 658.9,239.2 659.1,237.2 659.3,235.2 659.5,233.2 659.6,231.2 659.8,229.2 660.0,227.2 660.2,225.2 660.4,223.2 660.6,221.3 660.8,219.3 661.0,217.3 661.3,215.3 661.5,213.3 661.8,211.3 662.0,209.3 662.3,207.4 662.5,205.4 662.8,203.4 663.1,201.4 663.5,199.5 663.8,197.5 664.2,195.5 664.8,193.6 665.5,191.9 666.7,191.3 667.9,192.2 668.7,193.9 669.4,195.8 670.0,197.7 670.5,199.6 671.0,201.6 671.5,203.5 671.9,205.5 672.4,207.4 672.8,209.4 673.2,211.4 673.6,213.3 673.9,215.3 674.3,217.2 674.7,219.2 675.1,221.2 675.5,223.1 675.8,225.1 676.2,227.1 676.6,229.0 677.0,231.0 677.5,232.9 677.9,234.9 678.3,236.8 678.8,238.8 679.3,240.7 679.8,242.6 680.4,244.6 680.9,246.5 681.6,248.4 682.2,250.3 682.9,252.2 683.6,254.0 684.3,255.9 685.1,257.7 686.0,259.5 686.9,261.3 687.9,263.1 688.8,264.8 689.8,266.5 690.9,268.2 692.0,269.9 693.1,271.6 694.2,273.3 695.3,274.9 696.5,276.5 697.7,278.1 699.0,279.6 700.5,281.0 702.0,282.2 703.7,283.3 705.5,284.2 707.4,284.8 709.3,285.3 711.3,285.7 713.2,286.1 715.2,286.3 717.2,286.5 719.2,286.8 721.2,286.9 723.2,287.0 725.2,287.1 727.2,287.1 729.2,287.0 731.2,286.9 733.2,286.8 735.2,286.7 737.2,286.5 739.1,286.3 741.1,286.0 743.1,285.7 745.1,285.5 747.1,285.2 749.0,284.9 751.0,284.5 753.0,284.2 755.0,283.9 756.9,283.5 758.9,283.2 760.9,282.9 762.9,282.6 764.8,282.2 766.8,281.9 768.8,281.6 770.8,281.3 772.7,281.0 774.7,280.6 776.2,280.4 776.8,280.3" stroke="#111111" stroke-width="1.8" fill="none" stroke-linejoin="round" stroke-linecap="round"/>
<path d="M455.7,331.3 457.7,331.2 459.7,331.1 461.7,330.9 463.7,330.7 465.7,330.5 467.7,330.3 469.6,330.1 471.6,329.8 473.6,329.5 475.6,329.1 477.5,328.7 479.5,328.4 481.4,327.9 483.4,327.5 485.4,327.1 487.3,326.7 489.3,326.2 491.2,325.7 493.1,325.1 495.0,324.4 496.8,323.6 498.6,322.8 500.5,321.9 502.2,321.0 504.0,320.1 505.8,319.2 507.6,318.3 509.3,317.4 511.1,316.5 512.9,315.7 514.8,314.9 516.7,314.2 518.6,313.6 520.5,313.2 522.5,312.9 524.5,312.7 526.5,312.6 528.5,312.6 530.5,312.8 532.5,313.0 534.4,313.4 536.4,313.8 538.3,314.4 540.2,314.9 542.2,315.4 544.1,316.0 546.0,316.6 547.9,317.2 549.8,317.8 551.7,318.3 553.7,318.9 555.6,319.3 557.6,319.7 559.5,320.1 561.5,320.4 563.5,320.7 565.5,321.0 567.4,321.3 569.4,321.7 571.4,322.0 573.3,322.4 575.3,322.8 577.2,323.2 579.2,323.6 581.2,324.0 583.1,324.3 585.1,324.6 587.1,324.8 589.1,325.0 591.1,325.2 593.1,325.3 595.1,325.4 597.1,325.5 599.1,325.6 601.1,325.6 603.1,325.6 605.1,325.5 607.1,325.4 609.1,325.2 611.0,324.8 613.0,324.4 615.0,324.0 616.9,323.6 618.9,323.2 620.8,322.8 622.8,322.3 624.7,321.7 626.6,321.1 628.5,320.5 630.4,319.8 632.2,319.1 634.1,318.4 636.0,317.7 637.9,317.0 639.7,316.2 641.4,315.2 642.9,314.0 644.3,312.5 645.5,310.9 646.6,309.2 647.5,307.4 648.2,305.6 648.9,303.7 649.5,301.8 650.1,299.9 650.6,298.0 651.0,296.0 651.5,294.1 651.9,292.1 652.3,290.2 652.7,288.2 653.1,286.2 653.4,284.3 653.8,282.3 654.1,280.3 654.5,278.4 654.8,276.4 655.1,274.4 655.4,272.4 655.7,270.4 655.9,268.5 656.2,266.5 656.4,264.5 656.6,262.5 656.8,260.5 657.1,258.5 657.2,256.5 657.4,254.5 657.6,252.6 657.8,250.6 658.0,248.6 658.1,246.6 658.3,244.6 658.4,242.6 658.6,240.6 658.8,238.6 658.9,236.6 659.0,234.6 659.1,232.6 659.3,230.6 659.4,228.6 659.5,226.6 659.6,224.6 659.7,222.6 659.8,220.6 659.9,218.6 659.9,216.6 660.0,214.6 660.1,212.6 660.1,210.6 660.2,208.6 660.2,206.6 660.3,204.6 660.3,202.6 660.4,200.6 660.4,198.6 660.5,196.6 660.5,194.6 660.6,192.6 660.6,190.6 660.6,188.6 660.7,186.6 660.7,184.6 660.7,182.6 660.8,180.6 660.8,178.6 660.9,176.6 660.9,174.6 660.9,172.6 661.0,170.6 661.0,168.6 661.1,166.6 661.1,164.6 661.1,162.6 661.2,160.6 661.2,158.6 661.3,156.6 661.3,154.6 661.4,152.6 661.4,150.7 661.5,148.7 661.5,146.7 661.6,144.7 661.6,142.7 661.7,140.7 661.7,138.7 661.8,136.7 661.9,134.7 662.0,132.7 662.0,130.7 662.1,128.7 662.2,126.7 662.3,124.7 662.4,122.7 662.5,120.7 662.6,118.7 662.7,116.7 662.7,114.7 662.8,112.7 662.9,110.7 663.0,108.7 663.1,106.7 663.2,104.7 663.4,102.7 663.5,100.7 663.6,98.7 663.7,96.7 663.8,94.7 664.0,92.7 664.1,90.7 664.2,88.7 664.4,86.7 664.5,84.7 664.7,82.7 664.8,80.7 665.0,78.8 665.2,76.8 665.5,74.8 665.8,73.0 666.4,72.4 666.9,73.5 667.3,75.4 667.6,77.4 667.9,79.4 668.1,81.3 668.3,83.3 668.5,85.3 668.6,87.3 668.8,89.3 669.0,91.3 669.3,93.3 669.5,95.3 669.7,97.3 669.9,99.3 670.1,101.2 670.3,103.2 670.5,105.2 670.7,107.2 670.9,109.2 671.0,111.2 671.2,113.2 671.3,115.2 671.5,117.2 671.6,119.2 671.8,121.2 671.9,123.2 672.1,125.2 672.2,127.2 672.3,129.2 672.5,131.1 672.6,133.1 672.8,135.1 672.9,137.1 673.0,139.1 673.1,141.1 673.3,143.1 673.4,145.1 673.5,147.1 673.6,149.1 673.7,151.1 673.8,153.1 673.9,155.1 674.0,157.1 674.1,159.1 674.3,161.1 674.4,163.1 674.5,165.1 674.6,167.1 674.7,169.1 674.8,171.1 674.9,173.1 675.0,175.1 675.1,177.1 675.3,179.1 675.4,181.1 675.5,183.1 675.7,185.1 675.8,187.1 675.9,189.0 676.1,191.0 676.2,193.0 676.4,195.0 676.6,197.0 676.7,199.0 676.9,201.0 677.0,203.0 677.2,205.0 677.3,207.0 677.5,209.0 677.7,211.0 677.8,213.0 678.0,215.0 678.2,217.0 678.4,218.9 678.5,220.9 678.7,222.9 678.9,224.9 679.1,226.9 679.3,228.9 679.5,230.9 679.8,232.9 680.1,234.8 680.4,236.8 680.8,238.8 681.1,240.8 681.6,242.7 682.0,244.7 682.5,246.6 683.1,248.5 683.7,250.4 684.4,252.3 685.1,254.2 685.9,256.0 686.7,257.8 687.6,259.6 688.6,261.3 689.6,263.1 690.7,264.8 691.8,266.4 693.0,268.0 694.0,269.7 694.9,271.5 695.6,273.4 696.3,275.3 697.1,277.1 698.0,278.9 698.9,280.7 700.0,282.4 701.1,284.0 702.3,285.6 703.8,287.0 705.4,288.1 707.1,289.1 708.9,289.9 710.8,290.6 712.6,291.4 714.5,292.1 716.4,292.8 718.3,293.4 720.2,293.8 722.2,294.1 724.2,294.4 726.2,294.7 728.2,294.8 730.2,295.0 732.2,295.1 734.2,295.1 736.2,295.0 738.2,294.9 740.1,294.8 742.1,294.6 744.1,294.4 746.1,294.1 748.1,293.8 750.0,293.4 752.0,293.1 754.0,292.8 756.0,292.5 758.0,292.2 759.9,291.9 761.9,291.6 763.9,291.3 765.9,291.0 767.8,290.6 769.8,290.3 771.8,289.9 773.7,289.5 775.5,289.2 776.8,288.9" stroke="#ff1a1a" stroke-width="1.8" fill="none" stroke-linejoin="round" stroke-linecap="round"/>
<path d="M455.7,331.5 457.7,331.4 459.7,331.2 461.7,331.1 463.7,330.9 465.7,330.7 467.7,330.5 469.6,330.3 471.6,330.0 473.6,329.8 475.6,329.5 477.6,329.1 479.5,328.7 481.5,328.3 483.4,327.9 485.4,327.4 487.3,326.9 489.2,326.3 491.1,325.7 493.0,325.0 494.9,324.3 496.7,323.5 498.5,322.6 500.2,321.6 501.9,320.6 503.6,319.5 505.3,318.4 506.9,317.3 508.6,316.1 510.2,315.0 511.9,313.8 513.5,312.8 515.3,311.7 517.0,310.8 518.8,309.8 520.6,309.0 522.4,308.3 524.3,307.6 526.3,307.1 528.2,306.7 530.2,306.4 532.2,306.3 534.2,306.2 536.2,306.2 538.2,306.3 540.2,306.5 542.2,306.8 544.1,307.1 546.1,307.4 548.1,307.8 550.0,308.2 552.0,308.7 553.9,309.2 555.8,309.8 557.7,310.4 559.6,311.0 561.5,311.6 563.4,312.2 565.4,312.7 567.3,313.0 569.3,313.3 571.3,313.6 573.3,313.8 575.3,314.2 577.2,314.5 579.2,314.9 581.2,315.3 583.1,315.6 585.1,315.9 587.1,316.2 589.1,316.5 591.1,316.7 593.0,316.8 595.0,317.0 597.0,317.1 599.0,317.2 601.0,317.2 603.0,317.2 605.0,317.1 607.0,317.0 609.0,316.9 611.0,316.8 613.0,316.7 615.0,316.5 617.0,316.3 619.0,316.1 621.0,315.9 623.0,315.6 624.9,315.3 626.9,315.0 628.9,314.6 630.8,314.2 632.8,313.7 634.7,313.2 636.6,312.7 638.5,312.0 640.3,311.2 642.1,310.2 643.7,309.1 645.2,307.8 646.3,306.2 647.2,304.4 647.9,302.5 648.4,300.6 649.0,298.7 649.5,296.7 650.0,294.8 650.5,292.9 651.0,290.9 651.4,289.0 651.9,287.0 652.3,285.1 652.6,283.1 652.9,281.1 653.3,279.2 653.6,277.2 653.9,275.2 654.1,273.2 654.4,271.2 654.7,269.3 654.9,267.3 655.2,265.3 655.4,263.3 655.6,261.3 655.9,259.3 656.1,257.3 656.3,255.3 656.5,253.4 656.7,251.4 656.9,249.4 657.1,247.4 657.3,245.4 657.5,243.4 657.7,241.4 657.9,239.4 658.1,237.4 658.4,235.5 658.6,233.5 658.9,231.5 659.2,229.5 659.5,227.5 659.8,225.6 660.2,223.6 660.6,221.6 661.0,219.7 661.4,217.7 661.8,215.8 662.3,213.8 662.8,211.9 663.3,210.0 663.9,208.0 664.5,206.1 665.3,204.4 666.5,203.1 668.0,203.1 669.3,204.4 670.3,206.1 671.1,207.9 671.7,209.8 672.2,211.7 672.6,213.7 673.1,215.6 673.5,217.6 673.9,219.6 674.3,221.5 674.8,223.5 675.2,225.4 675.7,227.4 676.1,229.3 676.6,231.3 677.1,233.2 677.6,235.1 678.1,237.0 678.7,239.0 679.4,240.9 680.0,242.7 680.7,244.6 681.4,246.5 682.1,248.4 682.8,250.2 683.6,252.1 684.3,253.9 685.1,255.8 686.0,257.6 686.8,259.4 687.7,261.2 688.7,262.9 689.8,264.6 691.0,266.2 692.4,267.6 693.9,268.9 695.5,270.1 697.1,271.4 698.7,272.6 700.3,273.7 702.0,274.8 703.6,275.9 705.4,276.9 707.2,277.6 709.1,278.2 711.1,278.7 713.0,279.1 715.0,279.4 717.0,279.6 719.0,279.8 721.0,279.9 723.0,280.0 725.0,280.1 727.0,280.1 729.0,280.2 731.0,280.3 733.0,280.4 735.0,280.3 737.0,280.1 738.9,279.8 740.9,279.4 742.8,279.0 744.8,278.6 746.8,278.2 748.7,277.7 750.6,277.2 752.6,276.8 754.5,276.3 756.5,275.8 758.4,275.3 760.3,274.8 762.3,274.3 764.2,273.8 766.1,273.3 768.1,272.8 770.0,272.3 772.0,271.9 773.9,271.6 775.9,271.2 776.8,271.1" stroke="#10f010" stroke-width="1.8" fill="none" stroke-linejoin="round" stroke-linecap="round"/>
<path d="M455.7,331.5 457.7,331.4 459.7,331.2 461.7,331.1 463.7,330.9 465.7,330.7 467.7,330.5 469.6,330.3 471.6,330.0 473.6,329.8 475.6,329.5 477.6,329.1 479.5,328.8 481.5,328.3 483.4,327.9 485.3,327.3 487.3,326.8 489.2,326.1 491.0,325.5 492.9,324.8 494.8,324.0 496.6,323.2 498.4,322.3 500.1,321.3 501.8,320.2 503.4,319.1 505.1,317.9 506.7,316.8 508.3,315.6 509.9,314.4 511.6,313.2 513.2,312.1 514.9,311.1 516.6,310.0 518.4,309.1 520.2,308.2 522.0,307.4 523.9,306.6 525.8,306.0 527.7,305.5 529.7,305.2 531.6,304.9 533.6,304.8 535.6,304.7 537.6,304.7 539.6,304.8 541.6,305.0 543.6,305.3 545.6,305.7 547.5,306.0 549.5,306.3 551.5,306.7 553.4,307.1 555.4,307.5 557.3,308.1 559.2,308.6 561.2,309.0 563.1,309.4 565.1,309.8 567.1,310.2 569.0,310.6 571.0,311.0 573.0,311.3 574.9,311.7 576.9,312.0 578.9,312.4 580.8,312.7 582.8,313.0 584.8,313.3 586.8,313.5 588.8,313.7 590.8,313.9 592.8,314.0 594.8,314.1 596.8,314.2 598.8,314.2 600.8,314.3 602.8,314.3 604.8,314.3 606.8,314.3 608.8,314.3 610.8,314.2 612.8,314.1 614.8,314.0 616.7,313.8 618.7,313.5 620.7,313.1 622.6,312.7 624.6,312.3 626.6,311.9 628.5,311.4 630.4,310.8 632.3,310.1 634.1,309.3 635.9,308.4 637.7,307.5 639.4,306.6 641.1,305.6 642.8,304.4 644.3,303.1 645.7,301.7 646.9,300.2 647.8,298.4 648.6,296.5 649.2,294.6 649.8,292.7 650.3,290.8 650.7,288.8 651.2,286.9 651.5,284.9 651.9,283.0 652.3,281.0 652.7,279.0 653.0,277.1 653.4,275.1 653.8,273.1 654.1,271.2 654.4,269.2 654.8,267.2 655.1,265.3 655.4,263.3 655.8,261.3 656.1,259.3 656.4,257.4 656.7,255.4 657.1,253.4 657.5,251.5 658.0,249.5 658.4,247.6 658.9,245.6 659.3,243.7 659.8,241.7 660.3,239.8 660.8,237.9 661.4,235.9 662.0,234.0 662.6,232.1 663.2,230.2 663.7,228.3 664.2,226.3 664.6,224.4 665.0,222.4 665.4,220.5 665.9,218.5 666.5,216.6 667.4,215.0 668.7,214.3 669.9,215.1 670.8,216.8 671.6,218.7 672.2,220.6 672.8,222.5 673.4,224.4 673.9,226.3 674.5,228.2 675.0,230.2 675.5,232.1 676.1,234.0 676.7,235.9 677.2,237.8 677.8,239.8 678.4,241.7 679.1,243.5 679.8,245.4 680.7,247.2 681.5,249.0 682.4,250.8 683.4,252.6 684.3,254.3 685.3,256.1 686.3,257.8 687.3,259.5 688.4,261.2 689.6,262.8 690.9,264.3 692.3,265.7 693.8,267.1 695.3,268.3 697.0,269.5 698.7,270.6 700.3,271.6 702.0,272.7 703.7,273.8 705.4,274.8 707.2,275.6 709.1,276.3 711.0,276.8 713.0,277.2 715.0,277.6 716.9,277.9 718.9,278.1 720.9,278.3 722.9,278.5 724.9,278.7 726.9,278.8 728.9,278.9 730.9,278.8 732.9,278.7 734.9,278.5 736.9,278.2 738.8,277.9 740.8,277.5 742.8,277.2 744.7,276.8 746.7,276.5 748.7,276.0 750.6,275.6 752.5,275.1 754.5,274.6 756.4,274.1 758.3,273.6 760.3,273.1 762.2,272.6 764.2,272.1 766.1,271.6 768.0,271.1 770.0,270.6 771.9,270.2 773.9,269.9 775.8,269.5 776.8,269.4" stroke="#a51616" stroke-width="1.8" fill="none" stroke-linejoin="round" stroke-linecap="round"/>
<path d="M455.7,331.5 457.7,331.4 459.7,331.2 461.7,331.1 463.7,330.9 465.7,330.7 467.7,330.5 469.6,330.3 471.6,330.0 473.6,329.8 475.6,329.5 477.6,329.1 479.5,328.8 481.5,328.3 483.4,327.9 485.4,327.4 487.3,326.8 489.2,326.2 491.1,325.5 492.9,324.8 494.8,324.1 496.6,323.3 498.4,322.3 500.1,321.3 501.8,320.3 503.5,319.1 505.1,318.0 506.8,316.9 508.4,315.7 510.0,314.6 511.7,313.5 513.4,312.4 515.1,311.3 516.8,310.4 518.6,309.4 520.4,308.6 522.2,307.8 524.1,307.1 526.0,306.6 528.0,306.1 530.0,305.8 532.0,305.7 533.9,305.6 535.9,305.6 537.9,305.7 539.9,305.9 541.9,306.1 543.9,306.4 545.9,306.7 547.8,307.1 549.8,307.5 551.7,308.0 553.7,308.5 555.6,309.1 557.5,309.7 559.4,310.3 561.3,310.8 563.3,311.3 565.2,311.7 567.2,312.2 569.1,312.6 571.1,313.0 573.0,313.4 575.0,313.8 577.0,314.2 578.9,314.6 580.9,315.0 582.9,315.3 584.8,315.6 586.8,315.9 588.8,316.1 590.8,316.3 592.8,316.5 594.8,316.6 596.8,316.7 598.8,316.8 600.8,316.8 602.8,316.8 604.8,316.8 606.8,316.7 608.8,316.6 610.8,316.5 612.8,316.3 614.7,316.0 616.7,315.7 618.6,315.2 620.6,314.6 622.5,314.0 624.4,313.4 626.3,312.8 628.2,312.3 630.1,311.7 632.0,311.1 634.0,310.6 635.9,310.0 637.8,309.4 639.7,308.7 641.5,307.9 643.2,307.0 644.8,305.8 646.1,304.3 647.0,302.5 647.7,300.7 648.2,298.7 648.7,296.8 649.2,294.9 649.6,292.9 650.0,291.0 650.4,289.0 650.8,287.0 651.1,285.1 651.5,283.1 651.8,281.1 652.1,279.1 652.4,277.2 652.8,275.2 653.0,273.2 653.3,271.2 653.6,269.3 653.9,267.3 654.2,265.3 654.5,263.3 654.7,261.3 655.0,259.3 655.2,257.4 655.5,255.4 655.7,253.4 655.9,251.4 656.1,249.4 656.3,247.4 656.5,245.4 656.7,243.4 656.9,241.4 657.1,239.5 657.3,237.5 657.5,235.5 657.7,233.5 657.9,231.5 658.0,229.5 658.2,227.5 658.4,225.5 658.6,223.5 658.8,221.5 659.0,219.6 659.2,217.6 659.4,215.6 659.6,213.6 659.8,211.6 660.0,209.6 660.2,207.6 660.4,205.6 660.6,203.6 660.8,201.6 661.0,199.7 661.3,197.7 661.5,195.7 661.7,193.7 662.0,191.7 662.2,189.7 662.5,187.7 662.9,185.8 663.2,183.8 663.6,181.8 664.0,179.9 664.5,177.9 665.0,176.0 665.7,174.4 666.9,174.0 667.9,175.2 668.7,177.0 669.2,178.9 669.6,180.9 670.0,182.8 670.3,184.8 670.6,186.8 670.8,188.8 671.0,190.8 671.2,192.7 671.4,194.7 671.7,196.7 671.9,198.7 672.3,200.7 672.6,202.6 673.0,204.6 673.4,206.6 673.8,208.5 674.2,210.5 674.6,212.4 675.0,214.4 675.3,216.4 675.7,218.3 676.0,220.3 676.3,222.3 676.7,224.3 677.0,226.2 677.3,228.2 677.7,230.2 678.1,232.1 678.4,234.1 678.9,236.1 679.3,238.0 679.8,239.9 680.4,241.9 681.0,243.8 681.6,245.7 682.2,247.6 682.8,249.5 683.4,251.4 684.1,253.3 684.8,255.2 685.5,257.0 686.4,258.8 687.3,260.6 688.2,262.4 689.3,264.1 690.4,265.7 691.7,267.2 693.0,268.7 694.4,270.2 695.8,271.6 697.3,272.9 698.9,274.1 700.6,275.2 702.3,276.3 704.0,277.2 705.8,278.1 707.7,278.8 709.6,279.4 711.6,279.8 713.5,280.2 715.5,280.5 717.5,280.8 719.5,281.0 721.5,281.2 723.5,281.3 725.5,281.5 727.4,281.6 729.4,281.7 731.4,281.7 733.4,281.7 735.4,281.5 737.4,281.2 739.4,280.8 741.3,280.4 743.3,280.0 745.2,279.6 747.2,279.2 749.1,278.7 751.1,278.2 753.0,277.7 755.0,277.2 756.9,276.8 758.9,276.3 760.8,275.9 762.8,275.5 764.7,275.1 766.7,274.7 768.7,274.4 770.6,274.0 772.6,273.6 774.5,273.2 776.2,272.9 776.8,272.8" stroke="#16902c" stroke-width="1.8" fill="none" stroke-linejoin="round" stroke-linecap="round"/>
<path d="M680.40,276.00 L696.50,276.30" stroke="#16902c" stroke-width="1.8" fill="none"/>
<path d="M689.30,285.20 L700.00,285.30" stroke="#111111" stroke-width="1.8" fill="none"/>
<path d="M689.90,289.00 L707.20,288.80" stroke="#1f1fff" stroke-width="1.8" fill="none"/>
<path d="M455.7,51.5 H776.8 V372.2 H455.7 Z" fill="none" stroke="#111" stroke-width="1.6"/>
<path d="M455.7,51.50 h9.5 M455.7,55.56 h6.0 M455.7,59.62 h6.0 M455.7,63.68 h6.0 M455.7,67.74 h6.0 M455.7,71.81 h6.0 M455.7,75.87 h6.0 M455.7,79.93 h6.0 M455.7,83.99 h6.0 M455.7,88.05 h6.0 M455.7,92.11 h9.5 M455.7,96.17 h6.0 M455.7,100.23 h6.0 M455.7,104.29 h6.0 M455.7,108.35 h6.0 M455.7,112.41 h6.0 M455.7,116.48 h6.0 M455.7,120.54 h6.0 M455.7,124.60 h6.0 M455.7,128.66 h6.0 M455.7,132.72 h9.5 M455.7,136.78 h6.0 M455.7,140.84 h6.0 M455.7,144.90 h6.0 M455.7,148.96 h6.0 M455.7,153.03 h6.0 M455.7,157.09 h6.0 M455.7,161.15 h6.0 M455.7,165.21 h6.0 M455.7,169.27 h6.0 M455.7,173.33 h9.5 M455.7,177.39 h6.0 M455.7,181.45 h6.0 M455.7,185.51 h6.0 M455.7,189.57 h6.0 M455.7,193.63 h6.0 M455.7,197.70 h6.0 M455.7,201.76 h6.0 M455.7,205.82 h6.0 M455.7,209.88 h6.0 M455.7,213.94 h9.5 M455.7,218.00 h6.0 M455.7,222.06 h6.0 M455.7,226.12 h6.0 M455.7,230.18 h6.0 M455.7,234.25 h6.0 M455.7,238.31 h6.0 M455.7,242.37 h6.0 M455.7,246.43 h6.0 M455.7,250.49 h6.0 M455.7,254.55 h9.5 M455.7,258.61 h6.0 M455.7,262.67 h6.0 M455.7,266.73 h6.0 M455.7,270.79 h6.0 M455.7,274.86 h6.0 M455.7,278.92 h6.0 M455.7,282.98 h6.0 M455.7,287.04 h6.0 M455.7,291.10 h6.0 M455.7,295.16 h9.5 M455.7,299.22 h6.0 M455.7,303.28 h6.0 M455.7,307.34 h6.0 M455.7,311.40 h6.0 M455.7,315.46 h6.0 M455.7,319.53 h6.0 M455.7,323.59 h6.0 M455.7,327.65 h6.0 M455.7,331.71 h6.0 M455.7,335.77 h9.5 M455.7,339.83 h6.0 M455.7,343.89 h6.0 M455.7,347.95 h6.0 M455.7,352.01 h6.0 M455.7,356.07 h6.0 M455.7,360.14 h6.0 M455.7,364.20 h6.0 M455.7,368.26 h6.0 M455.7,372.32 h6.0 M455.70,372.2 v-6.0 M462.68,372.2 v-6.0 M469.66,372.2 v-6.0 M476.64,372.2 v-6.0 M483.62,372.2 v-6.0 M490.60,372.2 v-6.0 M497.58,372.2 v-9.5 M504.56,372.2 v-6.0 M511.54,372.2 v-6.0 M518.52,372.2 v-6.0 M525.50,372.2 v-6.0 M532.48,372.2 v-6.0 M539.47,372.2 v-6.0 M546.45,372.2 v-6.0 M553.43,372.2 v-6.0 M560.41,372.2 v-6.0 M567.39,372.2 v-9.5 M574.37,372.2 v-6.0 M581.35,372.2 v-6.0 M588.33,372.2 v-6.0 M595.31,372.2 v-6.0 M602.29,372.2 v-6.0 M609.27,372.2 v-6.0 M616.25,372.2 v-6.0 M623.23,372.2 v-6.0 M630.21,372.2 v-6.0 M637.19,372.2 v-9.5 M644.17,372.2 v-6.0 M651.15,372.2 v-6.0 M658.13,372.2 v-6.0 M665.11,372.2 v-6.0 M672.09,372.2 v-6.0 M679.07,372.2 v-6.0 M686.05,372.2 v-6.0 M693.03,372.2 v-6.0 M700.02,372.2 v-6.0 M707.00,372.2 v-9.5 M713.98,372.2 v-6.0 M720.96,372.2 v-6.0 M727.94,372.2 v-6.0 M734.92,372.2 v-6.0 M741.90,372.2 v-6.0 M748.88,372.2 v-6.0 M755.86,372.2 v-6.0 M762.84,372.2 v-6.0 M769.82,372.2 v-6.0 M776.80,372.2 v-9.5" stroke="#111" stroke-width="1.5" fill="none"/>
<text x="497.58" y="386.6" text-anchor="middle" class="tl">-50</text>
<text x="567.39" y="386.6" text-anchor="middle" class="tl">0</text>
<text x="637.19" y="386.6" text-anchor="middle" class="tl">50</text>
<text x="707.00" y="386.6" text-anchor="middle" class="tl">100</text>
<text x="776.80" y="386.6" text-anchor="middle" class="tl">150</text>
<text x="434.8" y="339.50" class="ty">0.0</text>
<text x="434.8" y="298.89" class="ty">0.1</text>
<text x="434.8" y="258.28" class="ty">0.2</text>
<text x="434.8" y="217.67" class="ty">0.3</text>
<text x="434.8" y="177.06" class="ty">0.4</text>
<text x="434.8" y="136.45" class="ty">0.5</text>
<text x="434.8" y="95.84" class="ty">0.6</text>
<text x="434.8" y="55.23" class="ty">0.7</text>
<path d="M511.0,91.00 H535.7" stroke="#111111" stroke-width="1.6"/>
<text x="542.0" y="95.00" class="lg">60-40</text>
<path d="M511.0,104.57 H535.7" stroke="#ff1a1a" stroke-width="1.6"/>
<text x="542.0" y="108.57" class="lg">40-60</text>
<path d="M511.0,118.14 H535.7" stroke="#1f1fff" stroke-width="1.6"/>
<text x="542.0" y="122.14" class="lg">70-30</text>
<path d="M511.0,131.71 H535.7" stroke="#ff1aff" stroke-width="1.6"/>
<text x="542.0" y="135.71" class="lg">10-TPU-PLA</text>
<path d="M511.0,145.28 H535.7" stroke="#10f010" stroke-width="1.6"/>
<text x="542.0" y="149.28" class="lg">20-TPU-PLA</text>
<path d="M511.0,158.85 H535.7" stroke="#a51616" stroke-width="1.6"/>
<text x="542.0" y="162.85" class="lg">30-TPU-PLA</text>
<path d="M511.0,172.42 H535.7" stroke="#16902c" stroke-width="1.6"/>
<text x="542.0" y="176.42" class="lg">40-TPU-PLA</text>
<text x="17.5" y="27.2" class="pl">(a)</text>
<text x="407.2" y="26.8" class="pl">(b)</text>
<text x="168.5" y="418.8" class="at">Temperature (<tspan dy="-6" font-size="10.5">O</tspan><tspan dy="6">C)</tspan></text>
<text x="551.5" y="419.0" class="at">Temperature (<tspan dy="-6" font-size="10.5">O</tspan><tspan dy="6">C)</tspan></text>
<text transform="translate(23.6,287.6) rotate(-90)" class="yt">Storage Modulus (Pa)</text>
<text transform="translate(424.6,246.9) rotate(-90)" class="yb">Tan delta</text>
<text x="669.7" y="76.4" class="an" style="font-size:14.5px">70</text>
<text x="526.3" y="271.2" class="an" style="font-size:15px">-16</text>
</svg>
</body></html>
